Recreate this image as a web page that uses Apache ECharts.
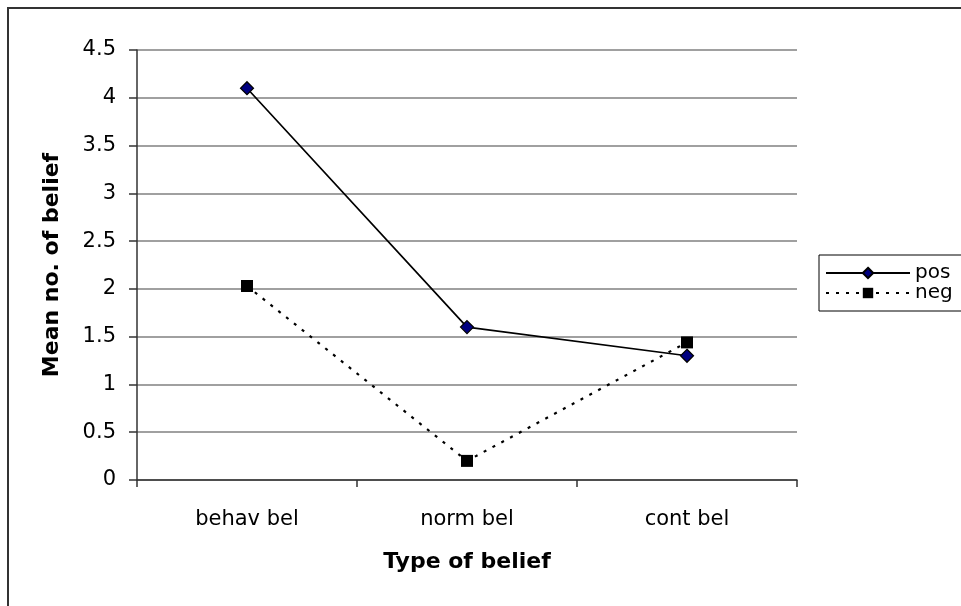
<!DOCTYPE html>
<html>
<head>
<meta charset="utf-8">
<script src="https://cdn.jsdelivr.net/npm/echarts@6/dist/echarts.min.js"></script>
<style>
html,body{margin:0;padding:0;background:#fff;}
#chart{width:961px;height:606px;}
</style>
</head>
<body>
<div id="chart"></div>
<script>
var categories = ['behav bel', 'norm bel', 'cont bel'];
var posValues = [4.1, 1.6, 1.3];
var negValues = [2.03, 0.2, 1.44];
var seriesNames = ['pos', 'neg'];
var xTitle = 'Type of belief';
var yTitle = 'Mean no. of belief';

var chart = echarts.init(document.getElementById('chart'));
var font = '"DejaVu Sans", "Liberation Sans", Arial, sans-serif';
chart.setOption({
  animation: false,
  backgroundColor: '#fff',
  graphic: [{
    type: 'rect', silent: true, z: 100,
    shape: {x: 8, y: 8, width: 1000, height: 700},
    style: {fill: 'none', stroke: '#333', lineWidth: 2}
  }],
  grid: {left: 137, right: 164, top: 50, bottom: 126, containLabel: false},
  legend: {
    orient: 'vertical', left: 819, top: 255,
    padding: [8, 9, 8, 6],
    itemGap: 0,
    itemWidth: 84, itemHeight: 13,
    borderColor: '#000', borderWidth: 1, backgroundColor: '#fff',
    textStyle: {fontFamily: font, fontSize: 20, lineHeight: 18, color: '#000', padding: [0, 0, 0, 0]},
    data: seriesNames
  },
  xAxis: {
    type: 'category', data: categories, boundaryGap: true,
    name: xTitle, nameLocation: 'middle', nameGap: 71,
    nameTextStyle: {fontFamily: font, fontSize: 22, fontWeight: 'bold', color: '#000'},
    axisLine: {lineStyle: {color: '#333', width: 1.5}},
    axisTick: {show: true, length: 7, inside: false, alignWithLabel: false, lineStyle: {color: '#333', width: 1.5}},
    axisLabel: {fontFamily: font, fontSize: 21, color: '#000', margin: 29},
    splitLine: {show: false}
  },
  yAxis: {
    type: 'value', min: 0, max: 4.5, interval: 0.5,
    name: yTitle, nameLocation: 'middle', nameGap: 74, nameRotate: 90,
    nameTextStyle: {fontFamily: font, fontSize: 22, fontWeight: 'bold', color: '#000'},
    axisLine: {show: true, lineStyle: {color: '#333', width: 1.5}},
    axisTick: {show: true, length: 8, inside: false, lineStyle: {color: '#333', width: 1.5}},
    axisLabel: {fontFamily: font, fontSize: 21, color: '#000', margin: 21},
    splitLine: {show: true, lineStyle: {color: '#808080', width: 1.5}}
  },
  series: [{
    name: seriesNames[0], type: 'line', data: posValues,
    symbol: 'diamond', symbolSize: 13,
    itemStyle: {color: '#000080', borderColor: '#000', borderWidth: 1.2},
    lineStyle: {color: '#000', width: 1.7, type: 'solid'},
    z: 3
  }, {
    name: seriesNames[1], type: 'line', data: negValues,
    symbol: 'rect', symbolSize: 12,
    itemStyle: {color: '#000', borderColor: '#000', borderWidth: 0},
    lineStyle: {color: '#000', width: 2.2, type: [3, 7]},
    z: 4
  }]
});
</script>
</body>
</html>
